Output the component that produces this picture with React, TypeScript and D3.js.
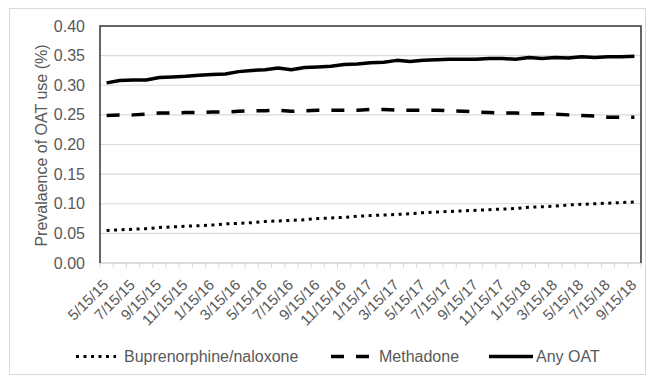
import React from "react";
import * as d3 from "d3";

const dates: string[] = [
  "5/15/15","6/15/15","7/15/15","8/15/15","9/15/15","10/15/15","11/15/15","12/15/15",
  "1/15/16","2/15/16","3/15/16","4/15/16","5/15/16","6/15/16","7/15/16","8/15/16","9/15/16","10/15/16","11/15/16","12/15/16",
  "1/15/17","2/15/17","3/15/17","4/15/17","5/15/17","6/15/17","7/15/17","8/15/17","9/15/17","10/15/17","11/15/17","12/15/17",
  "1/15/18","2/15/18","3/15/18","4/15/18","5/15/18","6/15/18","7/15/18","8/15/18","9/15/18",
];

const buprenorphine: number[] = [
  0.055,0.056,0.057,0.058,0.060,0.061,0.062,0.063,0.064,0.066,
  0.067,0.068,0.070,0.071,0.072,0.073,0.075,0.076,0.077,0.079,
  0.080,0.081,0.082,0.083,0.085,0.086,0.087,0.088,0.089,0.090,
  0.091,0.092,0.094,0.095,0.096,0.098,0.099,0.100,0.101,0.102,0.103,
];

const methadone: number[] = [
  0.249,0.250,0.250,0.251,0.253,0.253,0.254,0.254,0.255,0.255,
  0.256,0.257,0.257,0.258,0.256,0.257,0.258,0.258,0.258,0.258,
  0.259,0.259,0.258,0.258,0.258,0.258,0.257,0.256,0.255,0.254,
  0.253,0.253,0.252,0.252,0.251,0.250,0.249,0.248,0.246,0.246,0.246,
];

const anyOAT: number[] = [
  0.304,0.308,0.309,0.309,0.313,0.314,0.315,0.317,0.318,0.319,
  0.323,0.325,0.326,0.329,0.326,0.330,0.331,0.332,0.335,0.336,
  0.338,0.339,0.342,0.340,0.342,0.343,0.344,0.344,0.344,0.345,
  0.345,0.344,0.347,0.345,0.347,0.346,0.348,0.347,0.348,0.348,0.349,
];

const yTicks: number[] = [0, 0.05, 0.1, 0.15, 0.2, 0.25, 0.3, 0.35, 0.4];
const seriesNames: string[] = ["Buprenorphine/naloxone", "Methadone", "Any OAT"];

const W = 649;
const H = 376;
const left = 100;
const right = 641;
const top = 26;
const bottom = 263;
const font = "'Liberation Sans', Arial, sans-serif";
const textColor = "#595959";

export default function App() {
  const x = d3.scaleBand<string>().domain(dates).range([left, right]).padding(0);
  const y = d3.scaleLinear().domain([0, 0.4]).range([bottom, top]);
  const cx = (d: string) => (x(d) as number) + x.bandwidth() / 2;

  const line = d3
    .line<number>()
    .x((_, i) => cx(dates[i]))
    .y((v) => y(v))
    .curve(d3.curveLinear);

  const seriesStyles = [
    { data: buprenorphine, dash: "3 4.5", width: 3 },
    { data: methadone, dash: "13 12", width: 3.5 },
    { data: anyOAT, dash: "none", width: 3.5 },
  ];

  const legendItems = [
    { x1: 76, x2: 116, tx: 124, dash: "3 4.5", width: 3 },
    { x1: 331, x2: 371, tx: 379, dash: "13 12", width: 3.5 },
    { x1: 489, x2: 533, tx: 536, dash: "none", width: 3.5 },
  ];
  const legendY = 356.5;

  const boundaries = d3.range(dates.length + 1).map((i) => left + i * x.bandwidth());

  return (
    <svg
      width={W}
      height={H}
      style={{ position: "absolute", left: 0, top: 0, background: "#fff" }}
      fontFamily={font}
    >
      <rect x={9.5} y={8.5} width={636} height={366} fill="#fff" stroke="#d9d9d9" strokeWidth={1} />
      {yTicks.map((t) => (
        <g key={t}>
          {t > 0 && t < 0.4 && (
            <line x1={left} x2={right} y1={y(t)} y2={y(t)} stroke="#d9d9d9" strokeWidth={1.2} />
          )}
          <text
            x={85}
            y={y(t)}
            textAnchor="end"
            dominantBaseline="central"
            fontSize={16}
            fill={textColor}
          >
            {t.toFixed(2)}
          </text>
        </g>
      ))}
      {boundaries.map((bx, i) => (
        <line key={i} x1={bx} x2={bx} y1={bottom} y2={bottom + 5} stroke="#d9d9d9" strokeWidth={1} />
      ))}
      <line x1={left} x2={right} y1={bottom} y2={bottom} stroke="#d0d0d0" strokeWidth={1.5} />
      <path
        d={`M${left},${bottom} L${left},${top} L${right},${top} L${right},${bottom}`}
        fill="none"
        stroke="#333"
        strokeWidth={1.5}
      />
      {seriesStyles.map((s, k) => (
        <path
          key={k}
          d={line(s.data) || ""}
          fill="none"
          stroke="#000"
          strokeWidth={s.width}
          strokeDasharray={s.dash}
          strokeLinejoin="round"
        />
      ))}
      {dates.map((d, i) =>
        i % 2 === 0 ? (
          <text
            key={d}
            transform={`translate(${cx(d) - 1},${bottom + 19}) rotate(-45)`}
            textAnchor="end"
            dominantBaseline="central"
            fontSize={15}
            fill={textColor}
          >
            {d}
          </text>
        ) : null
      )}
      <text
        transform={`translate(41,${(top + bottom) / 2 + 1}) rotate(-90)`}
        textAnchor="middle"
        dominantBaseline="central"
        fontSize={16}
        fill={textColor}
      >
        Prevalaence of OAT use (%)
      </text>
      {legendItems.map((l, k) => (
        <g key={k}>
          <line
            x1={l.x1}
            x2={l.x2}
            y1={legendY}
            y2={legendY}
            stroke="#000"
            strokeWidth={l.width}
            strokeDasharray={l.dash}
          />
          <text x={l.tx} y={legendY} dominantBaseline="central" fontSize={16} fill={textColor}>
            {seriesNames[k]}
          </text>
        </g>
      ))}
    </svg>
  );
}
